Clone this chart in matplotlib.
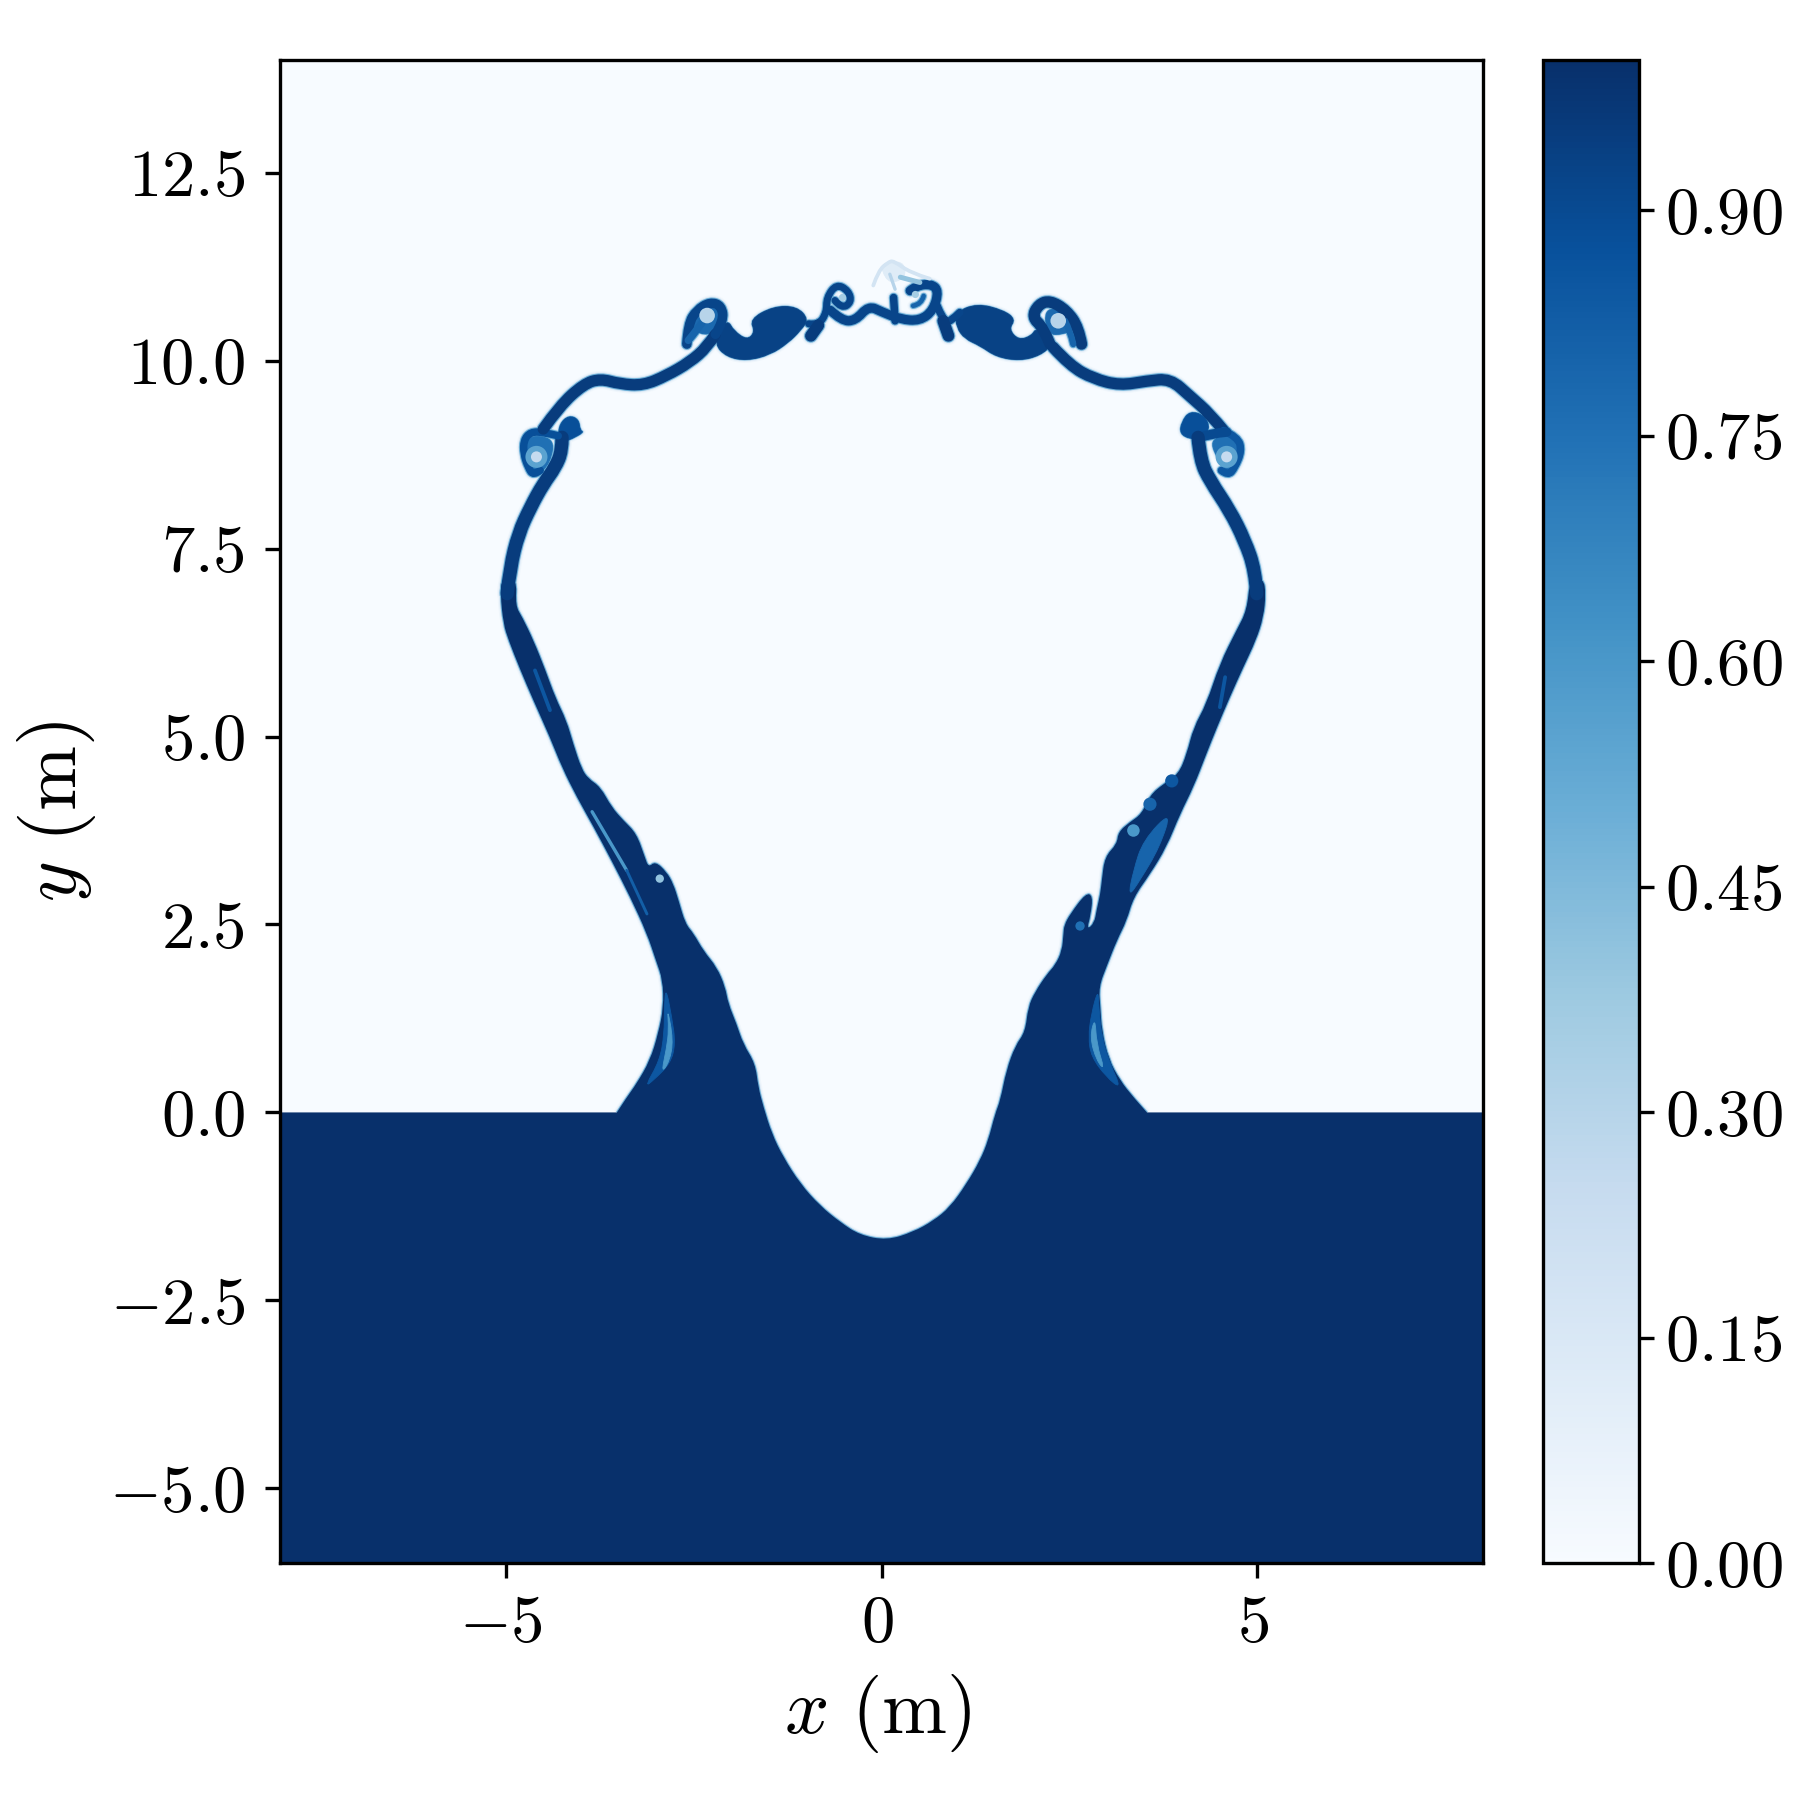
import numpy as np
import matplotlib
matplotlib.use('Agg')
import matplotlib.pyplot as plt
from matplotlib.cm import ScalarMappable
from matplotlib.colors import Normalize
from matplotlib.patches import PathPatch
from matplotlib.path import Path
from matplotlib.transforms import ScaledTranslation

plt.rcParams['mathtext.fontset'] = 'cm'
plt.rcParams['font.family'] = 'serif'

# water volume fraction field (x, y in metres)
pool = [(-8, 0), (-8, -6), (8, -6), (8, 0), (3.53, 0)]
crown = [(3.53, 0), (3.35, 0.20), (3.17, 0.43), (3.02, 0.71), (2.93, 1.09),
         (2.91, 1.40), (2.89, 1.67), (3.00, 1.96), (3.13, 2.29), (3.26, 2.55), (3.35, 2.86), (3.57, 3.17),
         (3.79, 3.53), (3.97, 3.97), (4.15, 4.33), (4.32, 4.77), (4.46, 5.12), (4.63, 5.52), (4.81, 5.92),
         (4.98, 6.28), (5.08, 6.59), (5.11, 6.90), (5.08, 7.10), (4.90, 7.10), (4.86, 6.68), (4.72, 6.41), (4.50, 5.97),
         (4.32, 5.43), (4.15, 5.12), (4.06, 4.77), (3.95, 4.50), (3.75, 4.37), (3.57, 4.22), (3.46, 3.97),
         (3.30, 3.86), (3.15, 3.73), (3.13, 3.57), (2.97, 3.40), (2.93, 3.09), (2.91, 2.91), (2.86, 2.69),
         (2.83, 2.52), (2.73, 2.43), (2.78, 2.62), (2.81, 2.88), (2.72, 2.92), (2.51, 2.64), (2.43, 2.49),
         (2.42, 2.38), (2.40, 2.15), (2.31, 1.96), (2.20, 1.84), (2.04, 1.60), (1.95, 1.40), (1.91, 1.07),
         (1.78, 0.89), (1.66, 0.56), (1.58, 0.16), (1.51, -0.02), (1.42, -0.37), (1.31, -0.64), (1.13, -0.95),
         (0.91, -1.26), (0.69, -1.44), (0.42, -1.59), (0.07, -1.70), (-0.29, -1.63), (-0.55, -1.46),
         (-0.82, -1.24), (-1.08, -0.95), (-1.31, -0.59), (-1.46, -0.28), (-1.57, 0.07), (-1.64, 0.34),
         (-1.68, 0.65), (-1.84, 0.91), (-1.93, 1.18), (-2.04, 1.45), (-2.08, 1.67), (-2.19, 1.93),
         (-2.37, 2.15), (-2.50, 2.38), (-2.61, 2.51), (-2.70, 2.82), (-2.77, 3.04), (-2.86, 3.20),
         (-3.01, 3.34), (-3.10, 3.26), (-3.15, 3.40), (-3.26, 3.71), (-3.43, 3.88), (-3.59, 4.06),
         (-3.74, 4.33), (-3.90, 4.44), (-3.99, 4.57), (-4.10, 4.90), (-4.19, 5.21), (-4.34, 5.52),
         (-4.47, 5.88), (-4.63, 6.28), (-4.78, 6.59), (-4.87, 6.74), (-4.85, 7.10), (-5.05, 7.10), (-5.07, 6.90),
         (-5.03, 6.50), (-4.96, 6.28), (-4.81, 5.90), (-4.63, 5.48), (-4.41, 4.99), (-4.25, 4.59),
         (-4.05, 4.19), (-3.83, 3.80), (-3.59, 3.35), (-3.34, 2.86), (-3.12, 2.38), (-3.00, 2.02),
         (-2.91, 1.76), (-2.90, 1.40), (-2.97, 1.05), (-3.08, 0.69), (-3.26, 0.38), (-3.39, 0.20),
         (-3.52, 0)]
blob_l = [(-2.04, 10.53), (-1.97, 10.40), (-1.79, 10.27), (-1.68, 10.38), (-1.75, 10.55), (-1.44, 10.72),
          (-1.13, 10.72), (-0.97, 10.55), (-1.08, 10.40), (-1.24, 10.24), (-1.48, 10.08), (-1.79, 10.00),
          (-2.06, 10.05), (-2.22, 10.22), (-2.13, 10.44)]
blob_r = [(0.98, 10.64), (1.27, 10.76), (1.62, 10.67), (1.78, 10.55), (1.69, 10.42), (1.82, 10.27),
          (2.00, 10.33), (2.06, 10.44), (2.28, 10.22), (2.11, 10.07), (1.84, 10.00), (1.53, 10.05),
          (1.31, 10.20), (1.11, 10.29), (1.00, 10.44)]
knot_l = [(-4.30, 8.98), (-4.28, 9.16), (-4.16, 9.27), (-4.03, 9.22), (-4.01, 9.07), (-3.96, 9.05), (-4.12, 8.96), (-4.23, 8.92)]
knot_r = [(3.97, 9.03), (3.99, 9.18), (4.10, 9.33), (4.30, 9.27), (4.37, 9.09), (4.24, 8.96), (4.10, 8.96)]
eddy_l = [(-4.76, 9.00), (-4.35, 8.98), (-4.41, 8.63), (-4.59, 8.47), (-4.74, 8.67)]
eddy_r = [(4.35, 8.98), (4.79, 9.00), (4.77, 8.67), (4.61, 8.47), (4.50, 8.63)]
hook_l = [(-2.57, 10.45), (-2.46, 10.67), (-2.15, 10.72), (-2.18, 10.42), (-2.35, 10.33)]
hook_r = [(2.20, 10.35), (2.17, 10.70), (2.45, 10.66), (2.58, 10.43), (2.42, 10.35)]
crescent_l = [(-2.87, 1.67), (-2.79, 1.27), (-2.74, 0.91), (-2.81, 0.65), (-3.03, 0.43), (-3.15, 0.34),
              (-2.95, 0.69), (-2.89, 1.05), (-2.89, 1.40)]
crescent_l2 = [(-2.85, 1.40), (-2.77, 0.96), (-2.82, 0.68), (-2.93, 0.52), (-2.86, 0.85), (-2.83, 1.10)]
crescent_r = [(2.88, 1.64), (2.79, 1.31), (2.75, 1.00), (2.79, 0.74), (2.99, 0.47), (3.19, 0.31),
              (3.04, 0.65), (2.93, 1.00), (2.89, 1.40)]
crescent_r2 = [(2.84, 1.27), (2.77, 1.00), (2.86, 0.69), (2.97, 0.56), (2.86, 0.91)]
wedge_r = [(3.86, 4.02), (3.48, 3.62), (3.35, 3.22), (3.28, 2.86), (3.44, 3.09), (3.70, 3.53)]
plume = [(0.02, 11.29), (0.29, 11.33), (0.33, 11.11), (0.11, 11.02), (0.00, 11.20)]
patches = [blob_l, blob_r, knot_l, knot_r, eddy_l, eddy_r, hook_l, hook_r, crescent_l, crescent_l2, crescent_r,
           crescent_r2, wedge_r, plume]
patch_vals = [0.93, 0.93, 0.88, 0.88, 0.75, 0.75, 0.78, 0.78, 0.85, 0.6, 0.85, 0.6, 0.8, 0.12]

# thin sheets
sheet_la = [(-4.98, 6.90), (-4.94, 7.25), (-4.83, 7.70), (-4.67, 8.05), (-4.50, 8.36), (-4.34, 8.58), (-4.25, 8.80), (-4.25, 8.98)]
sheet_lb = [(-4.30, 9.00), (-4.50, 9.05), (-4.67, 9.05), (-4.76, 8.94), (-4.76, 8.76), (-4.70, 8.58), (-4.63, 8.47), (-4.54, 8.54)]
sheet_lc = [(-4.50, 9.09), (-4.28, 9.40), (-3.96, 9.69), (-3.74, 9.76), (-3.48, 9.69), (-3.17, 9.67), (-2.86, 9.80), (-2.55, 9.98), (-2.32, 10.18), (-2.21, 10.35)]
sheet_ld = [(-2.21, 10.35), (-2.10, 10.53), (-2.13, 10.73), (-2.28, 10.78), (-2.46, 10.67), (-2.57, 10.49), (-2.59, 10.22)]
sheet_ld2 = [(-2.57, 10.27), (-2.46, 10.40), (-2.37, 10.53)]
sheet_le = [(-0.97, 10.49), (-0.84, 10.47), (-0.73, 10.64), (-0.73, 10.84), (-0.60, 11.02), (-0.44, 10.93), (-0.40, 10.78), (-0.53, 10.69), (-0.62, 10.80)]
dot_l = [(-0.84, 10.47), (-0.94, 10.33)]
sheet_c = [(-0.68, 10.67), (-0.53, 10.53), (-0.35, 10.53), (-0.17, 10.73), (0.0, 10.65), (0.25, 10.55), (0.51, 10.53), (0.69, 10.67), (0.76, 10.93), (0.66, 11.02), (0.47, 11.00), (0.38, 10.93)]
spiral_c = [(0.56, 10.86), (0.53, 10.75), (0.42, 10.73)]
stem_c = [(0.16, 10.84), (0.18, 10.53)]
sheet_rc = [(0.73, 10.75), (0.82, 10.53), (0.91, 10.51), (1.04, 10.64)]
dot_r = [(0.82, 10.53), (0.89, 10.33)]
sheet_rd = [(2.24, 10.22), (2.15, 10.44), (2.00, 10.58), (2.09, 10.75), (2.24, 10.80), (2.46, 10.67), (2.62, 10.44), (2.66, 10.22)]
sheet_rd2 = [(2.44, 10.53), (2.51, 10.40), (2.55, 10.22)]
sheet_rc2 = [(2.28, 10.18), (2.51, 9.93), (2.82, 9.76), (3.17, 9.67), (3.53, 9.73), (3.84, 9.76), (4.10, 9.53), (4.37, 9.29), (4.55, 9.07)]
sheet_rb = [(4.55, 9.07), (4.74, 8.98), (4.79, 8.80), (4.70, 8.58), (4.61, 8.47), (4.52, 8.54)]
sheet_rb2 = [(4.59, 9.05), (4.37, 9.03), (4.24, 8.98)]
sheet_ra = [(4.21, 8.98), (4.24, 8.67), (4.37, 8.40), (4.63, 8.01), (4.83, 7.61), (4.97, 7.21), (4.99, 6.90)]
sheets = [sheet_la, sheet_lb, sheet_lc, sheet_ld, sheet_ld2, sheet_le, dot_l, sheet_c, spiral_c, stem_c, sheet_rc,
          dot_r, sheet_rd, sheet_rd2, sheet_rc2, sheet_rb, sheet_rb2, sheet_ra]
sheet_vals = [0.95, 0.88, 0.95, 0.92, 0.8, 0.92, 0.95, 0.92, 0.8, 0.92, 0.92, 0.95, 0.95, 0.8, 0.95, 0.85, 0.9, 0.95]
sheet_lws = [3.2, 1.8, 2.7, 2.3, 1.8, 1.7, 2.8, 2.2, 1.1, 1.8, 1.8, 2.8, 2.7, 1.5, 2.7, 1.8, 2.3, 3.2]

# streaks and faint wisps over the dark field
streak_l = [(-3.85, 4.00), (-3.39, 3.22)]
streak_l2 = [(-3.39, 3.22), (-3.12, 2.64)]
streak_l3 = [(-4.61, 5.88), (-4.41, 5.35)]
streak_r3 = [(4.57, 5.79), (4.50, 5.39)]
wisp_a = [(-0.11, 11.00), (-0.04, 11.20), (0.09, 11.31), (0.16, 11.33), (0.38, 11.17), (0.64, 11.09)]
wisp_b = [(0.11, 11.15), (0.18, 10.95)]
wisp_c = [(0.25, 11.11), (0.51, 11.04)]
streaks = [streak_l, streak_l2, streak_l3, streak_r3, wisp_a, wisp_b, wisp_c]
streak_vals = [0.6, 0.82, 0.85, 0.85, 0.18, 0.3, 0.4]
streak_lws = [0.8, 0.7, 0.9, 0.9, 0.9, 0.8, 1.2]

# small round eddies
eddy_x = [-4.59, 4.59, -4.59, 4.59, -2.95, 2.64, 3.35, 3.57, 3.86, -2.32, 2.35, 0.45, -0.52]
eddy_y = [8.72, 8.72, 8.72, 8.72, 3.11, 2.48, 3.75, 4.10, 4.41, 10.60, 10.53, 10.88, 10.84]
eddy_v = [0.55, 0.55, 0.25, 0.25, 0.4, 0.75, 0.6, 0.8, 0.85, 0.3, 0.3, 0.35, 0.35]
eddy_s = [28, 28, 7, 7, 4, 5, 9, 10, 10, 14, 14, 3, 3]

x_ticks = [-5, 0, 5]
y_ticks = [-5.0, -2.5, 0.0, 2.5, 5.0, 7.5, 10.0, 12.5]
cb_ticks = [0.00, 0.15, 0.30, 0.45, 0.60, 0.75, 0.90]

# rim of the interface is blurred in the original, (extra width, value)
halo_w = [1.6, 1.0, 0.5]
halo_v = [0.04, 0.14, 0.5]

cmap = plt.get_cmap('Blues')
norm = Normalize(0, 1)


def smooth_path(pts, closed=False):
    # picked points become quadratic control points, so no corner shows
    pts = [np.array(p, dtype=float) for p in pts]
    if closed:
        m = (pts[-1] + pts[0]) / 2
        pts = [m] + pts + [m]
    verts = [pts[0]]
    codes = [Path.MOVETO]
    for i in range(1, len(pts) - 1):
        end = (pts[i] + pts[i + 1]) / 2 if i < len(pts) - 2 else pts[-1]
        verts += [pts[i], end]
        codes += [Path.CURVE3, Path.CURVE3]
    if len(pts) == 2:
        verts.append(pts[1])
        codes.append(Path.LINETO)
    return Path(verts, codes)


fig = plt.figure(figsize=(6, 6), dpi=300)
ax = fig.add_axes([0.1556, 0.1314, 0.6683, 0.8353])
cax = fig.add_axes([0.8572, 0.1314, 0.0534, 0.8353])

ax.set_facecolor(cmap(0.0))

crown_path = smooth_path(crown)
for dw, hv in zip(halo_w, halo_v):
    ax.add_patch(PathPatch(crown_path, fc='none', ec=cmap(norm(hv)), lw=dw, zorder=1, joinstyle='round'))
    for pts in patches[:8]:
        ax.add_patch(PathPatch(smooth_path(pts, closed=True), fc='none', ec=cmap(norm(hv)), lw=dw, zorder=1, joinstyle='round'))
    for pts, w in zip(sheets, sheet_lws):
        ax.add_patch(PathPatch(smooth_path(pts), fc='none', ec=cmap(norm(hv)), lw=w + dw, zorder=1, capstyle='round', joinstyle='round'))

# crown outline carried on round the pool, the flat surface stays sharp
field_path = Path(list(crown_path.vertices) + pool, list(crown_path.codes) + [Path.LINETO] * len(pool))
ax.add_patch(PathPatch(field_path, fc=cmap(norm(1.0)), ec='none', lw=0, zorder=2))
for pts, v in zip(patches, patch_vals):
    ax.add_patch(PathPatch(smooth_path(pts, closed=True), fc=cmap(norm(v)), ec=cmap(norm(v)), lw=0.2, zorder=3, joinstyle='round'))
for pts, v, w in zip(sheets, sheet_vals, sheet_lws):
    ax.add_patch(PathPatch(smooth_path(pts), fc='none', ec=cmap(norm(v)), lw=w, zorder=4, capstyle='round', joinstyle='round'))
for pts, v, w in zip(streaks, streak_vals, streak_lws):
    ax.add_patch(PathPatch(smooth_path(pts), fc='none', ec=cmap(norm(v)), lw=w, zorder=5, capstyle='round', joinstyle='round'))
ax.scatter(eddy_x, eddy_y, c=eddy_v, s=eddy_s, cmap=cmap, norm=norm, linewidths=0, zorder=6)

ax.set_xlim(-8, 8)
ax.set_ylim(-6, 14)
ax.set_xticks(x_ticks)
ax.set_xticklabels(['$%d$' % t for t in x_ticks])
ax.set_yticks(y_ticks)
ax.set_yticklabels(['$%.1f$' % t for t in y_ticks])
ax.tick_params(axis='y', labelsize=16, pad=4.9)
ax.tick_params(axis='x', labelsize=16, pad=3)
ax.set_xlabel(r'$x\ (\mathrm{m})$', fontsize=18.7)
ax.set_ylabel(r'$y\ (\mathrm{m})$', fontsize=18.7)
ax.xaxis.set_label_coords(0.497, -0.0722)
ax.yaxis.set_label_coords(-0.1516, 0.5)

cb = fig.colorbar(ScalarMappable(norm=norm, cmap=cmap), cax=cax)
cb.set_ticks(cb_ticks)
cb.set_ticklabels(['$%.2f$' % t for t in cb_ticks])
cb.ax.tick_params(labelsize=16, pad=2.7)

# labels sit a touch off centre in the original
for lab in ax.get_xticklabels():
    lab.set_transform(lab.get_transform() + ScaledTranslation(-1.1 / 72, 0, fig.dpi_scale_trans))
for lab in ax.get_yticklabels() + cb.ax.get_yticklabels():
    lab.set_transform(lab.get_transform() + ScaledTranslation(0, 0.5 / 72, fig.dpi_scale_trans))

fig.savefig('out.png', dpi=300)
